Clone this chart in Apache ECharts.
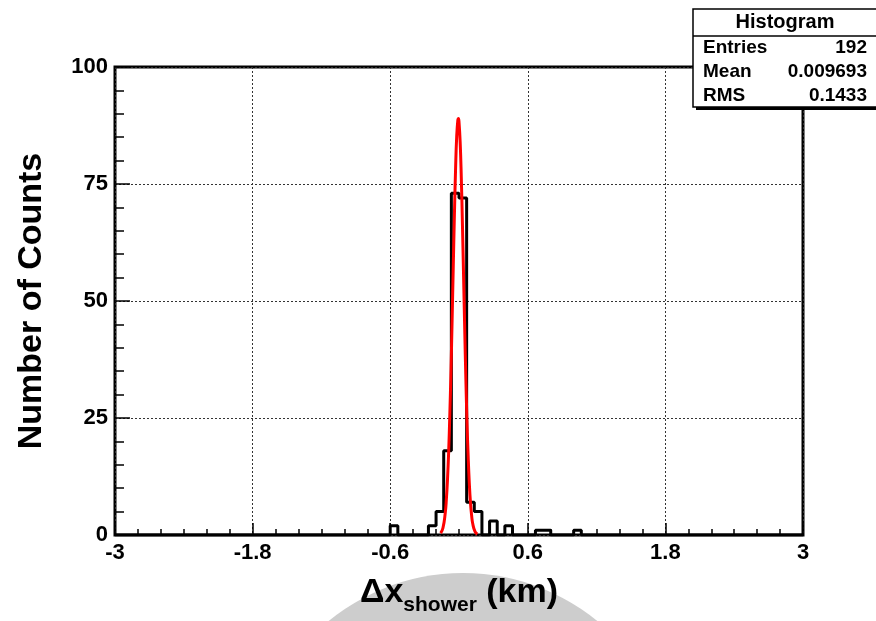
<!DOCTYPE html>
<html>
<head>
<meta charset="utf-8">
<script src="https://cdn.jsdelivr.net/npm/echarts@6/dist/echarts.min.js"></script>
<style>
  html, body { margin: 0; padding: 0; background: #fff; }
  #chart { width: 876px; height: 621px; }
</style>
</head>
<body>
<div id="chart"></div>
<script>
// ---- data ----
const xMin = -3;
const xMax = 3;
const binWidth = 1 / 15;              // 90 bins over [-3, 3]
// lower edges of non-empty bins and their counts
const histBinLow = [-0.6, -0.2667, -0.2, -0.1333, -0.0667, 0, 0.0667, 0.1333, 0.2667, 0.4, 0.6667, 0.7333, 1.0];
const histCounts = [2, 2, 5, 18, 73, 72, 7, 5, 3, 2, 1, 1, 1];
// gaussian fit curve
const fitX = [-0.16, -0.14, -0.12, -0.11, -0.10, -0.09, -0.08, -0.07, -0.06, -0.05, -0.04, -0.03, -0.02, -0.01, -0.005, 0, 0.01, 0.02, 0.03, 0.04, 0.05, 0.06, 0.07, 0.08, 0.09, 0.10, 0.11, 0.12, 0.14, 0.16];
const fitY = [0.4, 1.5, 4.7, 7.7, 12.0, 17.9, 25.8, 35.1, 46.0, 57.4, 68.5, 78.1, 85.2, 88.7, 89.0, 88.3, 84.0, 76.4, 66.3, 55.2, 43.8, 33.2, 24.0, 16.7, 11.0, 6.9, 4.2, 2.4, 0.7, 0.2];
// stats box
const statsTitle = 'Histogram';
const statsNames = ['Entries', 'Mean', 'RMS'];
const statsValues = ['192', '0.009693', '0.1433'];
// axis titles
const yTitle = 'Number of Counts';

// ---- build histogram outline ----
const nBins = Math.round((xMax - xMin) / binWidth);
const fullCounts = new Array(nBins).fill(0);
histBinLow.forEach((low, i) => {
  const k = Math.round((low - xMin) / binWidth);
  fullCounts[k] = histCounts[i];
});
const histLine = [];
for (let k = 0; k < nBins; k++) {
  const x0 = xMin + k * binWidth;
  const x1 = xMin + (k + 1) * binWidth;
  histLine.push([x0, fullCounts[k]], [x1, fullCounts[k]]);
}
const fitLine = fitX.map((x, i) => [x, fitY[i]]);

const FONT = 'Liberation Sans';
const chart = echarts.init(document.getElementById('chart'), null, { renderer: 'canvas' });

const statsGraphics = [
  { type: 'rect', shape: { x: 696, y: 12, width: 190, height: 98 }, style: { fill: '#000' }, z: 100 },
  { type: 'rect', shape: { x: 693, y: 9, width: 190, height: 98 }, style: { fill: '#fff', stroke: '#000', lineWidth: 1.5 }, z: 101 },
  { type: 'line', shape: { x1: 693, y1: 36, x2: 876, y2: 36 }, style: { stroke: '#000', lineWidth: 1.5 }, z: 102 },
  { type: 'text', x: 785, y: 22, z: 103, style: { text: statsTitle, font: 'bold 20px ' + FONT, fill: '#000', align: 'center', verticalAlign: 'middle' } }
];
const rowY = [48, 72, 96];
statsNames.forEach((n, i) => {
  statsGraphics.push({ type: 'text', x: 703, y: rowY[i], z: 103, style: { text: n, font: 'bold 19px ' + FONT, fill: '#000', align: 'left', verticalAlign: 'middle' } });
  statsGraphics.push({ type: 'text', x: 867, y: rowY[i], z: 103, style: { text: statsValues[i], font: 'bold 19px ' + FONT, fill: '#000', align: 'right', verticalAlign: 'middle' } });
});

const option = {
  backgroundColor: '#fff',
  animation: false,
  grid: { left: 115, right: 73, top: 67, bottom: 86, show: true, borderColor: '#000', borderWidth: 3, backgroundColor: 'transparent' },
  xAxis: {
    type: 'value', min: xMin, max: xMax, interval: 1.2,
    axisLine: { show: false, onZero: false },
    axisTick: { show: true, inside: true, length: 12, lineStyle: { color: '#000', width: 1.5 } },
    minorTick: { show: true, splitNumber: 6, length: 6, lineStyle: { color: '#000', width: 1.5 } },
    splitLine: { show: true, lineStyle: { color: '#333', width: 1, type: [2, 2] } },
    axisLabel: { margin: 7, color: '#000', fontFamily: FONT, fontWeight: 'bold', fontSize: 22,
      formatter: v => String(Math.round(v * 10) / 10) }
  },
  yAxis: {
    type: 'value', min: 0, max: 100, interval: 25,
    name: yTitle, nameLocation: 'middle', nameGap: 66, nameRotate: 90,
    nameTextStyle: { color: '#000', fontFamily: FONT, fontWeight: 'bold', fontSize: 34 },
    axisLine: { show: false, onZero: false },
    axisTick: { show: true, inside: true, length: 15, lineStyle: { color: '#000', width: 1.5 } },
    minorTick: { show: true, splitNumber: 5, length: 9, lineStyle: { color: '#000', width: 1.5 } },
    splitLine: { show: true, lineStyle: { color: '#333', width: 1, type: [2, 2] } },
    axisLabel: { margin: 7, color: '#000', fontFamily: FONT, fontWeight: 'bold', fontSize: 22 }
  },
  series: [
    { type: 'line', data: histLine, symbol: 'none', lineStyle: { color: '#000', width: 3 }, z: 3 },
    { type: 'line', data: fitLine, symbol: 'none', smooth: true, lineStyle: { color: '#ff0000', width: 3 }, z: 4 }
  ],
  graphic: [
    { type: 'circle', shape: { cx: 463, cy: 785, r: 212 }, style: { fill: '#cdcdcd' }, z: 1 },
    { type: 'text', x: 459, y: 593, z: 10, style: {
        text: '{a|Δx}{b|shower}{a| (km)}', align: 'center', verticalAlign: 'middle',
        rich: {
          a: { fontFamily: FONT, fontWeight: 'bold', fontSize: 34, fill: '#000', lineHeight: 46 },
          b: { fontFamily: FONT, fontWeight: 'bold', fontSize: 21, fill: '#000', verticalAlign: 'bottom', lineHeight: 24 }
        } } }
  ].concat(statsGraphics)
};
chart.setOption(option);
</script>
</body>
</html>
